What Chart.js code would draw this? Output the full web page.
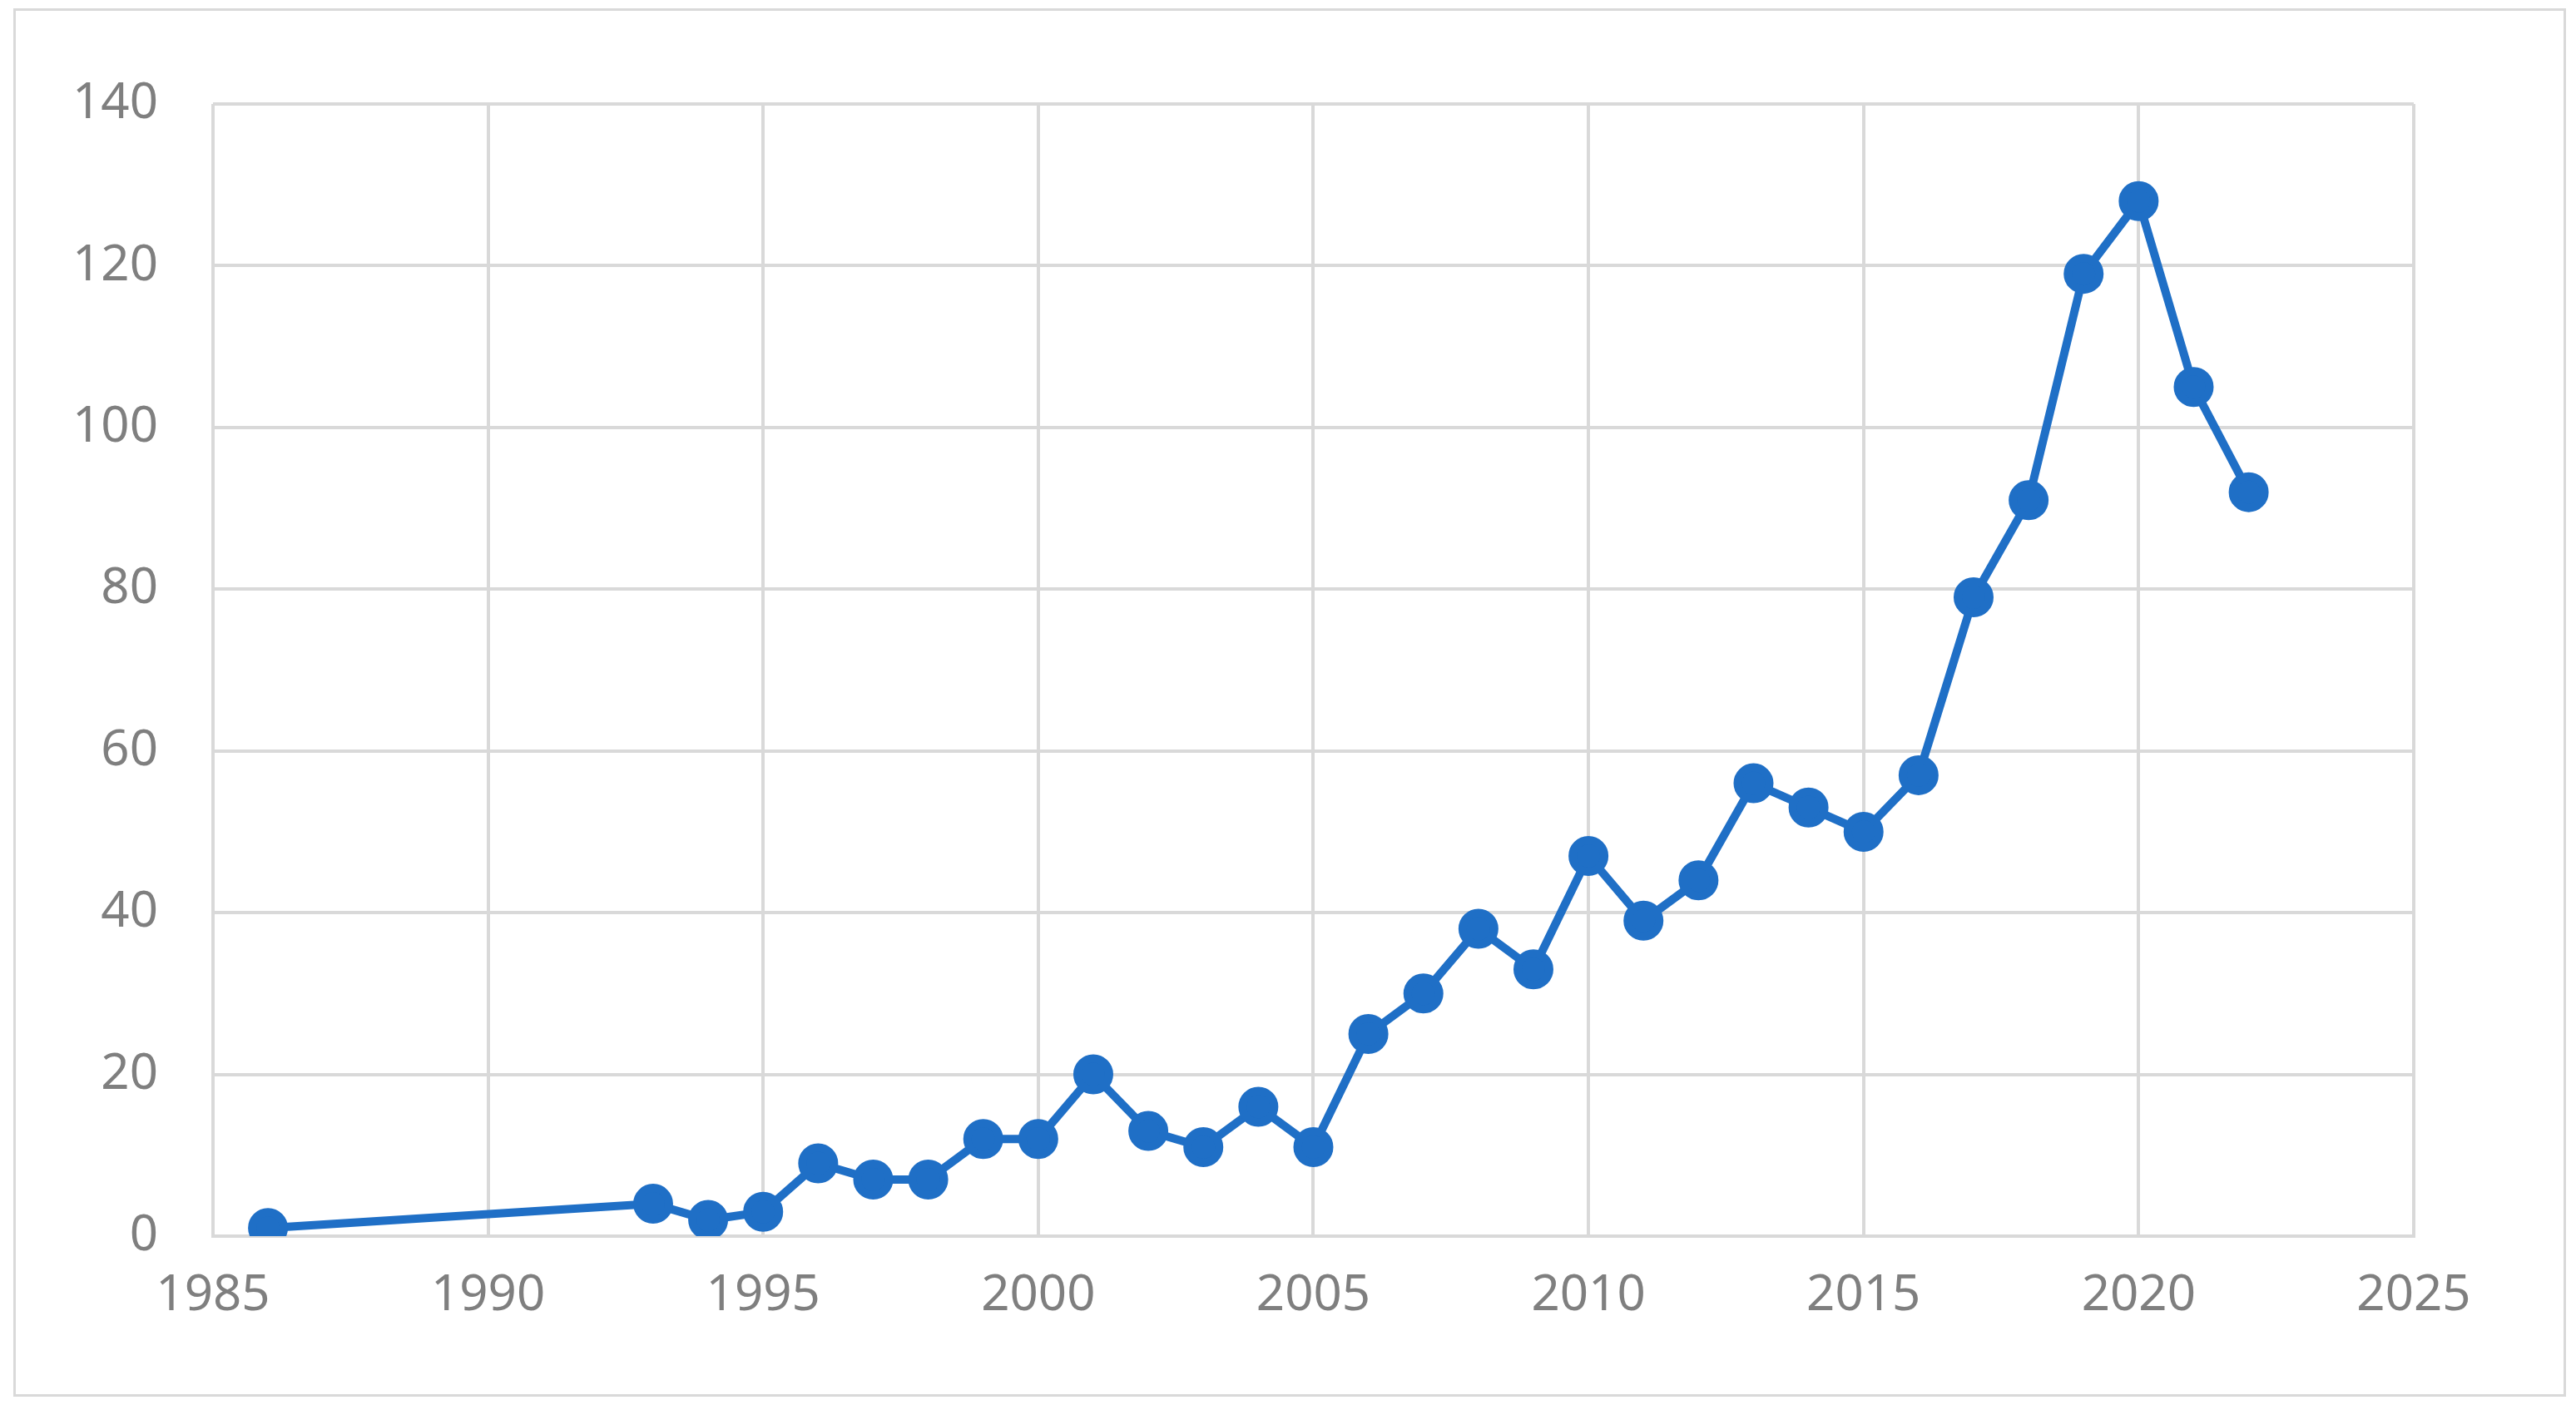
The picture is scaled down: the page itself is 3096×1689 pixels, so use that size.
<!DOCTYPE html>
<html><head><meta charset="utf-8">
<script src="https://cdn.jsdelivr.net/npm/chart.js@4"></script>
<style>
html,body{margin:0;padding:0;background:#fff;width:3096px;height:1689px;overflow:hidden}
#box{position:absolute;left:16px;top:10px;width:3062px;height:1663px;border:3px solid #d9d9d9;background:#fff}
</style></head><body>
<div id="box"><canvas id="c" width="3062" height="1663"></canvas></div>
<script>
const years=[1986,1993,1994,1995,1996,1997,1998,1999,2000,2001,2002,2003,2004,2005,2006,2007,2008,2009,2010,2011,2012,2013,2014,2015,2016,2017,2018,2019,2020,2021,2022];
const values=[1,4,2,3,9,7,7,12,12,20,13,11,16,11,25,30,38,33,47,39,44,56,53,50,57,79,91,119,128,105,92];
const xTicks=[1985,1990,1995,2000,2005,2010,2015,2020,2025];
const yTicks=[0,20,40,60,80,100,120,140];
const col='#1f6fc6';
const fnt={family:'"Noto Sans", sans-serif',size:60};
new Chart(document.getElementById('c'),{
type:'line',
data:{datasets:[{data:years.map((y,i)=>({x:y,y:values[i]})),borderColor:col,backgroundColor:col,borderWidth:10,pointRadius:19,pointHoverRadius:19,tension:0}]},
options:{responsive:false,animation:false,
layout:{padding:{left:2,right:180,top:112,bottom:46}},
plugins:{legend:{display:false},tooltip:{enabled:false}},
scales:{
x:{type:'linear',min:1985,max:2025,afterBuildTicks:a=>{a.ticks=xTicks.map(v=>({value:v}));},
grid:{color:'#d9d9d9',lineWidth:4,drawTicks:false},border:{color:'#d9d9d9',width:4},
ticks:{padding:36,color:'#7f7f7f',font:fnt,maxRotation:0,callback:v=>String(v)}},
y:{min:0,max:140,afterBuildTicks:a=>{a.ticks=yTicks.map(v=>({value:v}));},
grid:{color:'#d9d9d9',lineWidth:4,drawTicks:false},border:{display:false},
ticks:{padding:66,color:'#7f7f7f',font:fnt}}
}}});
</script></body></html>
